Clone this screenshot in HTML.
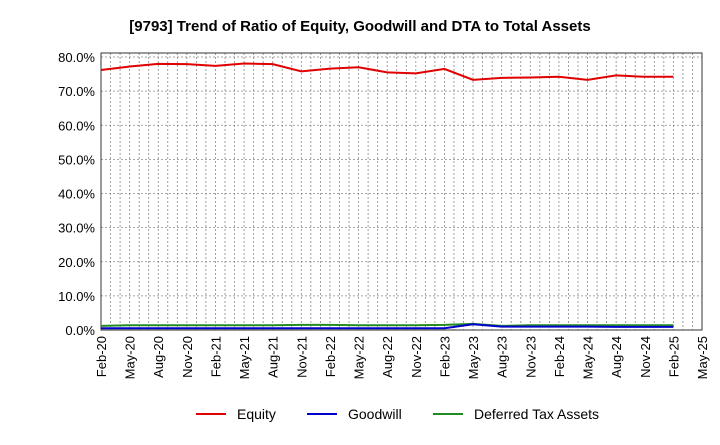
<!DOCTYPE html>
<html><head><meta charset="utf-8"><style>body{margin:0;background:#fff}svg{font-family:"Liberation Sans",sans-serif}</style></head>
<body>
<svg id="c" width="720" height="440" xmlns="http://www.w3.org/2000/svg">
<text x="360" y="31" text-anchor="middle" font-size="15" font-weight="bold">[9793]  Trend of Ratio of Equity, Goodwill and DTA to Total Assets</text>
<g id="grid"></g><g id="axes"></g><g id="series"></g>
<g>
<line x1="196" y1="414" x2="226" y2="414" stroke="#e00000" stroke-width="2"/><text x="237" y="419" font-size="14">Equity</text>
<line x1="307" y1="414" x2="337" y2="414" stroke="#0000cc" stroke-width="2"/><text x="348" y="419" font-size="14">Goodwill</text>
<line x1="433" y1="414" x2="463" y2="414" stroke="#228b22" stroke-width="2"/><text x="474" y="419" font-size="14">Deferred Tax Assets</text>
</g>
</svg>
<script>
const xLabels=["Feb-20","May-20","Aug-20","Nov-20","Feb-21","May-21","Aug-21","Nov-21","Feb-22","May-22","Aug-22","Nov-22","Feb-23","May-23","Aug-23","Nov-23","Feb-24","May-24","Aug-24","Nov-24","Feb-25","May-25"];
const yTicks=[0,10,20,30,40,50,60,70,80];
const equity=[76.2,77.2,78.0,77.9,77.4,78.1,77.9,75.8,76.6,77.0,75.5,75.2,76.5,73.3,73.9,74.0,74.2,73.3,74.6,74.2,74.2];
const goodwill=[0.5,0.5,0.5,0.5,0.5,0.5,0.5,0.5,0.5,0.5,0.5,0.5,0.5,1.7,1.0,1.0,1.0,1.0,0.9,0.9,0.9];
const dta=[1.2,1.4,1.4,1.4,1.4,1.4,1.4,1.5,1.5,1.4,1.4,1.4,1.5,1.8,1.2,1.4,1.4,1.4,1.4,1.4,1.4];
const NS="http://www.w3.org/2000/svg",L=101,R=702,T=53,B=330;
const x=i=>L+i*(R-L)/21, y=v=>B-v*(B-57)/80;
function el(p,t,a){const e=document.createElementNS(NS,t);for(const k in a)e.setAttribute(k,a[k]);document.getElementById(p).appendChild(e);return e;}
for(let m=1;m<63;m++){const g=el('grid','line',{x1:x(m/3),x2:x(m/3),y1:T,y2:B,stroke:'#888','stroke-dasharray':'2,2','stroke-width':0.8});
}
yTicks.forEach(v=>{if(v>0){const g=el('grid','line',{x1:L,x2:R,y1:y(v),y2:y(v),stroke:'#888','stroke-dasharray':'2,2','stroke-width':0.8});
}
const t=el('axes','text',{x:L-6,y:y(v)+5,'text-anchor':'end','font-size':13});t.textContent=v.toFixed(1)+'%';
});
const fr=el('axes','rect',{x:L,y:T,width:R-L,height:B-T,fill:'none',stroke:'#333'});

xLabels.forEach((s,i)=>{const t=el('axes','text',{transform:`translate(${x(i)+5},${B+6}) rotate(-90)`,'text-anchor':'end','font-size':13});t.textContent=s;
});
[[dta,'#228b22','dta-line'],[goodwill,'#0000cc','goodwill-line'],[equity,'#e00000','equity-line']].forEach(([d,c,n])=>{
const p=el('series','polyline',{points:d.map((v,i)=>x(i)+','+y(v)).join(' '),fill:'none',stroke:c,'stroke-width':2});
});
</script>
</body></html>
